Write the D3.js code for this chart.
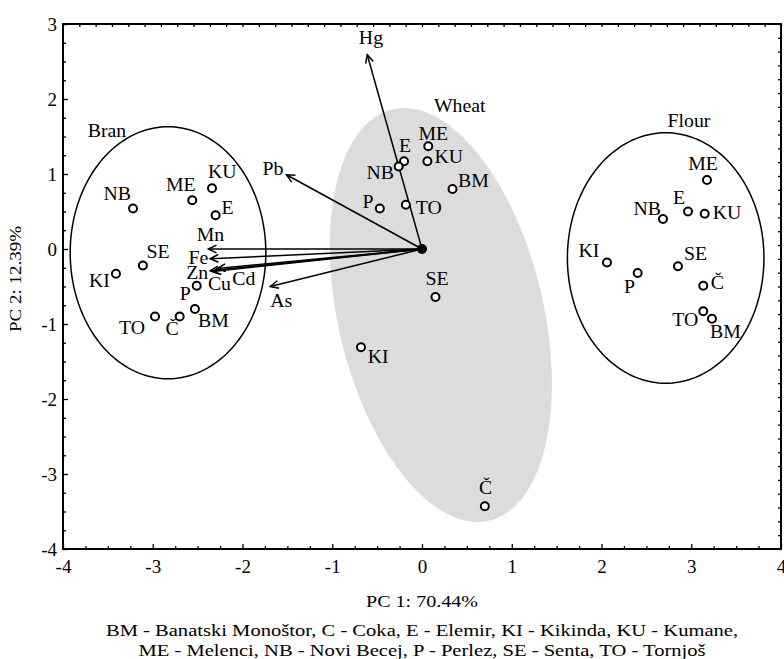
<!DOCTYPE html>
<html>
<head>
<meta charset="utf-8">
<script src="https://cdn.jsdelivr.net/npm/d3@7/dist/d3.min.js"></script>
<style>
body { margin: 0; background: #fff; }
text { font-family: "Liberation Serif", "Times New Roman", serif; fill: #000; }
</style>
</head>
<body>
<script>
var width = 784,
    height = 659;

// scores
var branNames = ["NB", "ME", "KU", "E", "SE", "KI", "P", "BM", "Č", "TO"]
var branPC1 = [-3.22, -2.56, -2.34, -2.30, -3.11, -3.41, -2.51, -2.53, -2.70, -2.975]
var branPC2 = [0.54, 0.65, 0.81, 0.45, -0.22, -0.33, -0.49, -0.80, -0.90, -0.90]

var wheatNames = ["ME", "E", "NB", "KU", "BM", "P", "TO", "SE", "KI", "Č"]
var wheatPC1 = [0.07, -0.20, -0.26, 0.06, 0.34, -0.47, -0.18, 0.15, -0.68, 0.70]
var wheatPC2 = [1.37, 1.17, 1.10, 1.17, 0.80, 0.54, 0.59, -0.64, -1.31, -3.43]

var flourNames = ["ME", "NB", "E", "KU", "KI", "P", "SE", "Č", "TO", "BM"]
var flourPC1 = [3.175, 2.685, 2.964, 3.15, 2.061, 2.403, 2.852, 3.134, 3.134, 3.231]
var flourPC2 = [0.92, 0.40, 0.50, 0.47, -0.18, -0.32, -0.23, -0.49, -0.83, -0.93]

// loadings (biplot arrows)
var elements = ["Hg", "Pb", "Mn", "Fe", "Zn", "Cu", "Cd", "As"]
var loadPC1 = [-0.61, -1.51, -2.38, -2.36, -2.36, -2.33, -2.28, -1.69]
var loadPC2 = [2.59, 0.99, 0.00, -0.13, -0.29, -0.30, -0.26, -0.50]

// group ellipses
var groups = ["Bran", "Wheat", "Flour"]
var ellCx = [-2.83, 0.21, 2.715]
var ellCy = [-0.05, -0.88, -0.12]
var ellRx = [1.09, 1.152, 1.095]
var ellRy = [1.68, 2.797, 1.67]
var ellTilt = [0, 10.2, 0]
var groupLabX = [-3.51, 0.42, 2.975]
var groupLabY = [1.49, 1.83, 1.63]

var xTicks = [-4, -3, -2, -1, 0, 1, 2, 3, 4]
var yTicks = [-4, -3, -2, -1, 0, 1, 2, 3]

var xTitle = "PC 1: 70.44%"
var yTitle = "PC 2: 12.39%"
var footer = ["BM - Banatski Monoštor, C - Coka, E - Elemir, KI - Kikinda, KU - Kumane,",
              "ME - Melenci, NB - Novi Becej, P - Perlez, SE - Senta, TO - Tornjoš"]

// label placement: [anchor, dx, dy] in pixels
var branLab = {NB: ["end", -2, -9], ME: ["middle", -11.5, -9], KU: ["start", -4, -10], E: ["start", 6, -1],
    SE: ["start", 3.5, -7.5], KI: ["end", -6, 13], P: ["end", -6, 14], BM: ["start", 3, 18],
    "Č": ["end", -1, 18], TO: ["end", -10, 17.5]}
var wheatLab = {ME: ["middle", 5, -6], E: ["middle", 1, -9.5], NB: ["end", -4.7, 12], KU: ["start", 7, 1.3],
    BM: ["start", 5.6, -2], P: ["end", -6.4, -1], TO: ["start", 10, 9], SE: ["middle", 1.5, -11.7],
    KI: ["start", 6.7, 15.4], "Č": ["middle", 0.7, -12.7]}
var flourLab = {ME: ["middle", -4, -10], NB: ["end", -2, -4.4], E: ["middle", -9, -7.4], KU: ["start", 8, 5],
    KI: ["end", -7.7, -5.4], P: ["end", -2.7, 20], SE: ["start", 6, -6], "Č": ["start", 7.4, 3.3],
    TO: ["end", -5, 14.7], BM: ["start", -2, 19.6]}
var loadLab = {Hg: ["middle", 3.7, -10.7], Pb: ["end", -3, 0], Mn: ["middle", 2, -8], Fe: ["end", -2, 5],
    Zn: ["end", -2, 8], Cu: ["start", -5, 18], Cd: ["start", 15, 16], As: ["start", 0, 20]}

var x = d3.scaleLinear().domain([-4, 4]).range([63, 781])
var y = d3.scaleLinear().domain([-4, 3]).range([549, 24])
// secondary axes on top / right only carry tick marks
var x2 = d3.scaleLinear().domain([-1.1, 1.1]).range([63, 781])
var y2 = d3.scaleLinear().domain([-1.1, 0.8]).range([549, 24])

var svg = d3.select("body")
  .append("svg")
    .attr("width", width)
    .attr("height", height)

var labSize = 18, labSx = 1.1

function addText(g, px, py, txt, anchor, size, sx) {
    return g.append("text")
        .attr("transform", "translate(" + px + "," + py + ") scale(" + sx + ",1)")
        .attr("text-anchor", anchor)
        .style("font-size", size + "px")
        .text(txt)
}

function zip(names, a, b) {
    return names.map(function(n, i) { return {name: n, pc1: a[i], pc2: b[i]} })
}

// ellipses
var ellData = groups.map(function(g, i) {
    return {name: g, cx: ellCx[i], cy: ellCy[i], rx: ellRx[i], ry: ellRy[i], tilt: ellTilt[i]}
})
var ellLine = d3.line().curve(d3.curveLinearClosed)
function ellPath(e) {
    var phi = e.tilt * Math.PI / 180
    var pts = d3.range(0, 360, 2).map(function(deg) {
        var t = deg * Math.PI / 180
        var dx = e.ry * Math.sin(t) * (-Math.sin(phi)) + e.rx * Math.cos(t) * Math.cos(phi)
        var dy = e.ry * Math.sin(t) * Math.cos(phi) + e.rx * Math.cos(t) * Math.sin(phi)
        return [x(e.cx + dx), y(e.cy + dy)]
    })
    return ellLine(pts)
}

svg.append("g").selectAll("path")
    .data(ellData).enter()
    .append("path")
    .attr("d", ellPath)
    .attr("fill", function(d) { return d.name == "Wheat" ? "#dcdcdc" : "none" })
    .attr("stroke", function(d) { return d.name == "Wheat" ? "none" : "#000" })
    .attr("stroke-width", 1.5)

var gl = svg.append("g")
groups.forEach(function(g, i) {
    addText(gl, x(groupLabX[i]), y(groupLabY[i]), g, "middle", labSize, labSx)
})

// arrows
var loads = zip(elements, loadPC1, loadPC2)
var ga = svg.append("g").attr("stroke", "#000").attr("stroke-width", 1.5).attr("fill", "none")
var ox = x(0), oy = y(0)
loads.forEach(function(d) {
    var tx = x(d.pc1), ty = y(d.pc2)
    ga.append("line")
        .attr("x1", ox).attr("y1", oy)
        .attr("x2", tx).attr("y2", ty)
    var ang = Math.atan2(oy - ty, ox - tx)
    var len = 9, spread = 0.45
    var p1 = [tx + len * Math.cos(ang + spread), ty + len * Math.sin(ang + spread)]
    var p2 = [tx + len * Math.cos(ang - spread), ty + len * Math.sin(ang - spread)]
    ga.append("path")
        .attr("d", "M" + p1 + "L" + tx + "," + ty + "L" + p2)
})
svg.append("circle")
    .attr("cx", ox).attr("cy", oy).attr("r", 5)
    .attr("fill", "#000")

var gll = svg.append("g")
loads.forEach(function(d) {
    var l = loadLab[d.name]
    addText(gll, x(d.pc1) + l[1], y(d.pc2) + l[2], d.name, l[0], labSize, labSx)
})

// scores
var sets = [
    {pts: zip(branNames, branPC1, branPC2), lab: branLab},
    {pts: zip(wheatNames, wheatPC1, wheatPC2), lab: wheatLab},
    {pts: zip(flourNames, flourPC1, flourPC2), lab: flourLab}
]
sets.forEach(function(s) {
    var g = svg.append("g")
    g.selectAll("circle")
        .data(s.pts).enter()
        .append("circle")
        .attr("cx", function(d) { return x(d.pc1) })
        .attr("cy", function(d) { return y(d.pc2) })
        .attr("r", 4)
        .attr("fill", "#fff")
        .attr("stroke", "#000")
        .attr("stroke-width", 2)
    s.pts.forEach(function(d) {
        var l = s.lab[d.name]
        addText(g, x(d.pc1) + l[1], y(d.pc2) + l[2], d.name, l[0], labSize, labSx)
    })
})

// axes
var plain = function(d) { return String(d) }
var xAxis = svg.append("g")
    .attr("transform", "translate(0,549)")
    .call(d3.axisBottom(x).tickValues(xTicks).tickFormat(plain)
        .tickSizeInner(-5).tickSizeOuter(0).tickPadding(10.5))
var yAxis = svg.append("g")
    .attr("transform", "translate(63,0)")
    .call(d3.axisLeft(y).tickValues(yTicks).tickFormat(plain)
        .tickSizeInner(-5).tickSizeOuter(0).tickPadding(6))

var minorX = d3.range(-4, 4.001, 0.25).filter(function(v) { return v % 1 != 0 })
var minorY = d3.range(-4, 3.001, 0.25).filter(function(v) { return v % 1 != 0 })
svg.append("g")
    .attr("transform", "translate(0,549)")
    .call(d3.axisBottom(x).tickValues(minorX).tickFormat("").tickSizeInner(-3).tickSizeOuter(0))
svg.append("g")
    .attr("transform", "translate(63,0)")
    .call(d3.axisLeft(y).tickValues(minorY).tickFormat("").tickSizeInner(-3).tickSizeOuter(0))

var topT = d3.range(0, 45).map(function(i) { return -1.1 + i * 0.05 })
svg.append("g")
    .attr("transform", "translate(0,24)")
    .call(d3.axisTop(x2).tickValues(topT).tickFormat("").tickSizeOuter(0)
        .tickSizeInner(-3))
var rightT = d3.range(0, 39).map(function(i) { return -1.1 + i * 0.05 })
svg.append("g")
    .attr("transform", "translate(781,0)")
    .call(d3.axisRight(y2).tickValues(rightT).tickFormat("").tickSizeOuter(0)
        .tickSizeInner(-3))

svg.selectAll(".domain").remove()
svg.selectAll(".tick line").attr("stroke", "#000").attr("stroke-width", 1.3)
xAxis.selectAll("text").style("font-size", "19px").style("font-family", "Liberation Serif")
yAxis.selectAll("text").style("font-size", "19px").style("font-family", "Liberation Serif")

svg.append("rect")
    .attr("x", x(-4)).attr("y", y(3))
    .attr("width", x(4) - x(-4))
    .attr("height", y(-4) - y(3))
    .attr("fill", "none")
    .attr("stroke", "#000")
    .attr("stroke-width", 2)

// titles
var gt = svg.append("g")
addText(gt, (x(-4) + x(4)) / 2, 607, xTitle, "middle", 17, 1.18)
gt.append("text")
    .attr("transform", "translate(21," + y(-0.4) + ") rotate(-90) scale(1.12,1)")
    .attr("text-anchor", "middle")
    .style("font-size", "17px")
    .text(yTitle)
footer.forEach(function(f, i) {
    addText(gt, (x(-4) + x(4)) / 2, 636 + i * 20, f, "middle", 17, 1.21)
})
</script>
</body>
</html>
